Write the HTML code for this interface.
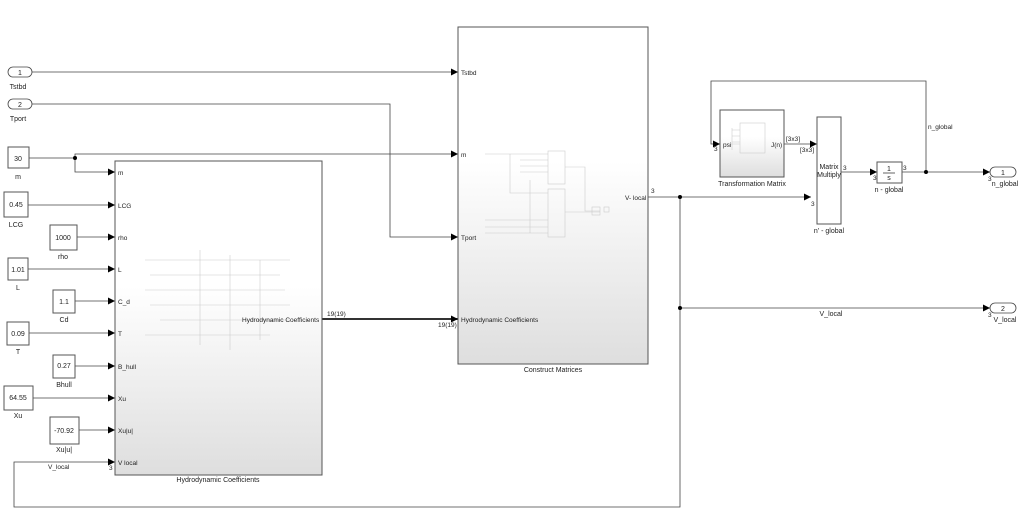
<!DOCTYPE html>
<html><head><meta charset="utf-8"><style>
html,body{margin:0;padding:0;background:#fff;}
svg{display:block;font-family:"Liberation Sans",sans-serif;}
</style></head><body>
<svg width="1024" height="528" viewBox="0 0 1024 528" xmlns="http://www.w3.org/2000/svg">
<defs>
<linearGradient id="g" x1="0" y1="0" x2="0" y2="1">
<stop offset="0" stop-color="#ffffff"/><stop offset="0.4" stop-color="#ffffff"/><stop offset="1" stop-color="#dedede"/>
</linearGradient>
<marker id="a" markerWidth="8" markerHeight="8" refX="7" refY="4" orient="auto" markerUnits="userSpaceOnUse">
<path d="M0,0.5 L7,4 L0,7.5z" fill="#000"/></marker>
</defs>
<g fill="none" stroke="#444" stroke-width="0.8">
<!-- Tstbd / Tport -->
<path d="M32,72 H458" marker-end="url(#a)"/>
<path d="M32,104 H390 V237 H458" marker-end="url(#a)"/>
<!-- m -->
<path d="M29,158 H75 V154 H458" marker-end="url(#a)"/>
<path d="M75,158 V172 H115" marker-end="url(#a)"/>
<path d="M28,205 H115" marker-end="url(#a)"/>
<path d="M77,237 H115" marker-end="url(#a)"/>
<path d="M28,269 H115" marker-end="url(#a)"/>
<path d="M75,301 H115" marker-end="url(#a)"/>
<path d="M29,333 H115" marker-end="url(#a)"/>
<path d="M75,366 H115" marker-end="url(#a)"/>
<path d="M33,398 H115" marker-end="url(#a)"/>
<path d="M79,430 H115" marker-end="url(#a)"/>
<!-- HC bus -->
<path d="M322,319 H458" stroke-width="2" stroke="#333" marker-end="url(#a)"/>
<!-- V-local -->
<path d="M648,197 H811" marker-end="url(#a)"/>
<path d="M680,197 V507 H14 V462 H115" marker-end="url(#a)"/>
<path d="M680,308 H990" marker-end="url(#a)"/>
<!-- right side -->
<path d="M784,144 H817" marker-end="url(#a)"/>
<path d="M841,172 H877" marker-end="url(#a)"/>
<path d="M902,172 H990" marker-end="url(#a)"/>
<path d="M926,172 V81 H711 V144 H720" marker-end="url(#a)"/>
</g>
<g fill="#000">
<circle cx="75" cy="158" r="2"/><circle cx="680" cy="197" r="2"/><circle cx="680" cy="308" r="2"/><circle cx="926" cy="172" r="2"/>
</g>
<!-- blocks -->
<g stroke="#555" stroke-width="1">
<rect x="115" y="161" width="207" height="314" fill="url(#g)"/>
<rect x="458" y="27" width="190" height="337" fill="url(#g)"/>
<rect x="720" y="110" width="64" height="67" fill="url(#g)"/>
<rect x="817" y="117" width="24" height="107" fill="#fff"/>
<rect x="877" y="162" width="25" height="21" fill="#fff"/>
</g>
<!-- faint internals -->
<g stroke="#ccc" stroke-width="0.6" fill="none">
<path d="M145,260 H290 M150,275 H280 M145,290 H285 M150,305 H290 M160,320 H290 M145,335 H270 M200,250 V345 M230,255 V350 M260,260 V340"/>
<rect x="548" y="151" width="17" height="33"/><rect x="548" y="189" width="17" height="48"/>
<path d="M485,154 H548 M510,154 V193 H548 M520,160 H548 M520,166 H548 M520,172 H548 M485,220 H548 M485,227 H548 M485,233 H548 M530,180 V233 M565,167 H585 V211 H600 M565,212 H600"/>
<rect x="592" y="207" width="8" height="8"/><rect x="604" y="207" width="5" height="5"/>
<rect x="740" y="123" width="25" height="30"/><path d="M725,144 H740 M732,128 V150 M732,130 H740 M732,136 H740 M732,142 H740"/>
</g>
<!-- inports/outports -->
<g fill="#fff" stroke="#444" stroke-width="0.8">
<rect x="8" y="67" width="24" height="10" rx="5"/>
<rect x="8" y="99" width="24" height="10" rx="5"/>
<rect x="990" y="167" width="26" height="10" rx="5"/>
<rect x="990" y="303" width="26" height="10" rx="5"/>
</g>
<!-- constants -->
<g fill="#fff" stroke="#555" stroke-width="1">
<rect x="8" y="147" width="21" height="21"/>
<rect x="4" y="192" width="24" height="25"/>
<rect x="50" y="225" width="27" height="25"/>
<rect x="8" y="258" width="20" height="22"/>
<rect x="53" y="290" width="22" height="23"/>
<rect x="7" y="322" width="22" height="23"/>
<rect x="53" y="355" width="22" height="23"/>
<rect x="4" y="386" width="29" height="24"/>
<rect x="50" y="417" width="29" height="27"/>
</g>
<g font-size="7" fill="#222" text-anchor="middle">
<text x="20" y="75">1</text><text x="20" y="107">2</text>
<text x="1003" y="175">1</text><text x="1003" y="311">2</text>
<text x="18" y="89">Tstbd</text><text x="18" y="121">Tport</text>
<text x="18" y="161">30</text><text x="18" y="179">m</text>
<text x="16" y="207">0.45</text><text x="16" y="227">LCG</text>
<text x="63" y="240">1000</text><text x="63" y="259">rho</text>
<text x="18" y="272">1.01</text><text x="18" y="290">L</text>
<text x="64" y="304">1.1</text><text x="64" y="322">Cd</text>
<text x="18" y="336">0.09</text><text x="18" y="354">T</text>
<text x="64" y="368">0.27</text><text x="64" y="387">Bhull</text>
<text x="18" y="400">64.55</text><text x="18" y="418">Xu</text>
<text x="64" y="433">-70.92</text><text x="64" y="452">Xu|u|</text>
<text x="218" y="482">Hydrodynamic Coefficients</text>
<text x="553" y="372">Construct Matrices</text>
<text x="752" y="186">Transformation Matrix</text>
<text x="829" y="233">n' - global</text>
<text x="889" y="192">n - global</text>
<text x="1005" y="186">n_global</text>
<text x="1005" y="322">V_local</text>
<text x="831" y="316">V_local</text>
<text x="829" y="169">Matrix</text><text x="829" y="177">Multiply</text>
<text x="889" y="171">1</text><text x="889" y="180">s</text>
</g>
<path d="M883,173 H895" stroke="#000" stroke-width="0.6"/>
<g font-size="6.5" fill="#222">
<text x="118" y="175">m</text><text x="118" y="208">LCG</text><text x="118" y="240">rho</text>
<text x="118" y="272">L</text><text x="118" y="304">C_d</text><text x="118" y="336">T</text>
<text x="118" y="369">B_hull</text><text x="118" y="401">Xu</text><text x="118" y="433">Xu|u|</text>
<text x="118" y="465">V local</text>
<text x="242" y="322">Hydrodynamic Coefficients</text>
<text x="461" y="75">Tstbd</text><text x="461" y="157">m</text><text x="461" y="240">Tport</text>
<text x="461" y="322">Hydrodynamic Coefficients</text>
<text x="625" y="200">V- local</text>
<text x="723" y="147">psi</text><text x="771" y="147">J(n)</text>
<text x="327" y="316">19(19)</text><text x="438" y="327">19(19)</text>
<text x="651" y="193">3</text>
<text x="786" y="141">[3x3]</text><text x="800" y="152">[3x3]</text>
<text x="843" y="170">3</text><text x="903" y="170">3</text>
<text x="714" y="151">3</text><text x="811" y="206">3</text><text x="873" y="180">3</text>
<text x="988" y="181">3</text><text x="988" y="317">3</text><text x="109" y="470">3</text>
<text x="928" y="129">n_global</text>
<text x="48" y="469">V_local</text>
</g>
</svg>
</body></html>
